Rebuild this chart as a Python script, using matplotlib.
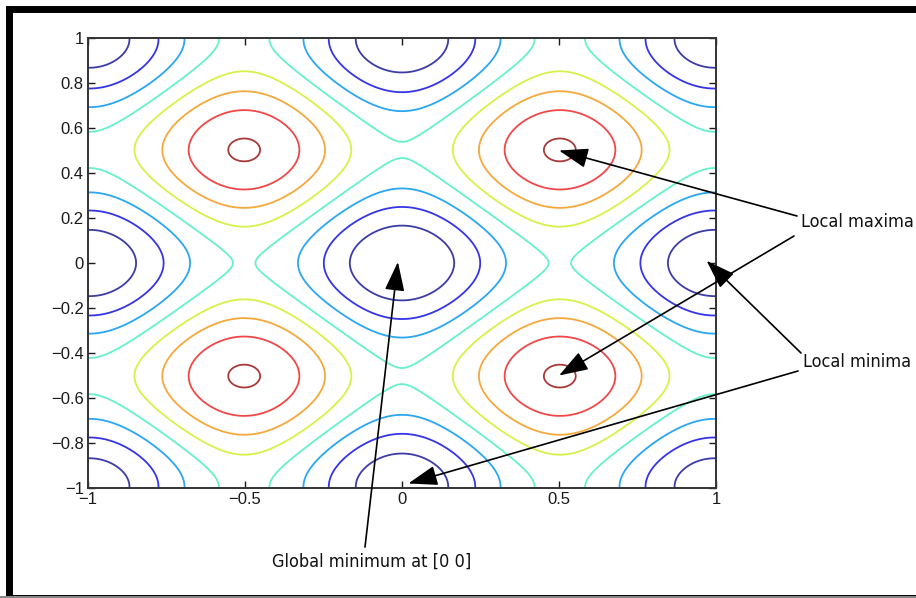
import numpy as np
import matplotlib
matplotlib.use("Agg")
import matplotlib.pyplot as plt
from matplotlib.patches import Rectangle

# surface: z = 0.1*(x^2 + y^2) - cos(2*pi*x) - cos(2*pi*y)
quad_coef = 0.1
levels = [-1.5, -1.0, -0.5, 0.0, 0.5, 1.0, 1.5, 2.0]
level_colors = ["#3c3ca6", "#3535e6", "#2aa6f2", "#66f0cc",
                "#d6f24a", "#f5a83c", "#f04848", "#a83a3a"]

x_ticks = [-1, -0.5, 0, 0.5, 1]
x_labels = ["\u22121", "\u22120.5", "0", "0.5", "1"]
y_ticks = [1, 0.8, 0.6, 0.4, 0.2, 0, -0.2, -0.4, -0.6, -0.8, -1]
y_labels = ["1", "0.8", "0.6", "0.4", "0.2", "0", "\u22120.2", "\u22120.4",
            "\u22120.6", "\u22120.8", "\u22121"]

maxima_pts = [(0.5, 0.5), (0.5, -0.5)]
minima_pts = [(0.97, 0.01), (0.02, -0.98)]
global_min_pt = (-0.013, 0.005)

xs = np.linspace(-1, 1, 401)
X, Y = np.meshgrid(xs, xs)
Z = quad_coef * (X**2 + Y**2) - np.cos(2 * np.pi * X) - np.cos(2 * np.pi * Y)

fig = plt.figure(figsize=(9.16, 5.98), dpi=100)
ax = fig.add_axes([88 / 916, 110 / 598, 628 / 916, 450 / 598])

ax.contour(X, Y, Z, levels=levels, colors=level_colors, linewidths=1.3)

ax.set_xlim(-1, 1)
ax.set_ylim(-1, 1)
ax.set_xticks(x_ticks)
ax.set_yticks(y_ticks)
ax.set_xticklabels(x_labels)
ax.set_yticklabels(y_labels)
ax.tick_params(direction="in", top=True, right=True, length=5, width=1,
               labelsize=12, colors="#1a1a1a", pad=3)
for lbl in ax.get_xticklabels() + ax.get_yticklabels():
    lbl.set_family(["Liberation Sans", "DejaVu Sans"])
for sp in ax.spines.values():
    sp.set_linewidth(1.4)
    sp.set_color("#333333")

# outer frame like the screenshot
fig.patches.append(Rectangle((9 / 916, 0), 1, 1 - 9 / 598, transform=fig.transFigure,
                             fill=False, edgecolor="black", linewidth=5))
fig.patches.append(Rectangle((0, 0), 1, 2 / 598, transform=fig.transFigure,
                             facecolor="#888888", edgecolor="none"))

note_font = dict(family=["DejaVu Sans"], fontstretch="condensed", fontsize=13,
                 color="#111111")
arrow = dict(arrowstyle="-|>,head_length=0.5,head_width=0.17", mutation_scale=36,
             color="black", lw=1.2, shrinkA=0, shrinkB=0)

fig.text(801 / 916, 1 - 222 / 598, "Local maxima", va="center", ha="left", **note_font)
fig.text(803 / 916, 1 - 362 / 598, "Local minima", va="center", ha="left", **note_font)
fig.text(272 / 916, 1 - 562 / 598, "Global minimum at [0 0]", va="center", ha="left",
         **note_font)

max_tails = [(797, 216), (794, 236)]
for pt, tail in zip(maxima_pts, max_tails):
    ax.annotate("", xy=pt, xycoords="data", xytext=(tail[0], 598 - tail[1]),
                textcoords="figure pixels", arrowprops=arrow, annotation_clip=False)

min_tails = [(801, 353), (798, 371)]
for pt, tail in zip(minima_pts, min_tails):
    ax.annotate("", xy=pt, xycoords="data", xytext=(tail[0], 598 - tail[1]),
                textcoords="figure pixels", arrowprops=arrow, annotation_clip=False)

ax.annotate("", xy=global_min_pt, xycoords="data", xytext=(365, 598 - 547),
            textcoords="figure pixels", arrowprops=arrow, annotation_clip=False)

fig.savefig("out.png", dpi=100, facecolor="white")
